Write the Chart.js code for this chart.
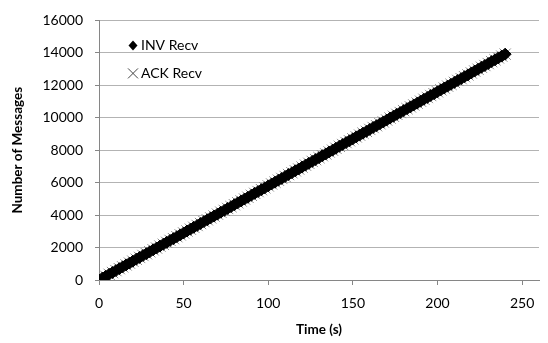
<!DOCTYPE html>
<html><head><meta charset="utf-8"><title>Messages received</title>
<script src="https://cdn.jsdelivr.net/npm/chart.js"></script>
<style>body{margin:0;background:#fff}</style></head>
<body>
<canvas id="msgChart" width="548" height="343"></canvas>
<script>
const timeSec = [0,2,4,6,8,10,12,14,16,18,20,22,24,26,28,30,32,34,36,38,40,42,44,46,48,50,52,54,56,58,60,62,64,66,68,70,72,74,76,78,80,82,84,86,88,90,92,94,96,98,100,102,104,106,108,110,112,114,116,118,120,122,124,126,128,130,132,134,136,138,140,142,144,146,148,150,152,154,156,158,160,162,164,166,168,170,172,174,176,178,180,182,184,186,188,190,192,194,196,198,200,202,204,206,208,210,212,214,216,218,220,222,224,226,228,230,232,234,236,238,240];
const invRecv = [0,120,230,350,460,580,700,810,930,1040,1160,1280,1390,1510,1620,1740,1860,1970,2090,2200,2320,2440,2550,2670,2780,2900,3020,3130,3250,3360,3480,3600,3710,3830,3940,4060,4180,4290,4410,4520,4640,4760,4870,4990,5100,5220,5340,5450,5570,5680,5800,5920,6030,6150,6260,6380,6500,6610,6730,6840,6960,7080,7190,7310,7420,7540,7660,7770,7890,8000,8120,8240,8350,8470,8580,8700,8820,8930,9050,9160,9280,9400,9510,9630,9740,9860,9980,10090,10210,10320,10440,10560,10670,10790,10900,11020,11140,11250,11370,11480,11600,11720,11830,11950,12060,12180,12300,12410,12530,12640,12760,12880,12990,13110,13220,13340,13460,13570,13690,13800,13920];
const ackRecv = [0,120,230,350,460,580,700,810,930,1040,1160,1280,1390,1510,1620,1740,1860,1970,2090,2200,2320,2440,2550,2670,2780,2900,3020,3130,3250,3360,3480,3600,3710,3830,3940,4060,4180,4290,4410,4520,4640,4760,4870,4990,5100,5220,5340,5450,5570,5680,5800,5920,6030,6150,6260,6380,6500,6610,6730,6840,6960,7080,7190,7310,7420,7540,7660,7770,7890,8000,8120,8240,8350,8470,8580,8700,8820,8930,9050,9160,9280,9400,9510,9630,9740,9860,9980,10090,10210,10320,10440,10560,10670,10790,10900,11020,11140,11250,11370,11480,11600,11720,11830,11950,12060,12180,12300,12410,12530,12640,12760,12880,12990,13110,13220,13340,13460,13570,13690,13800,13920];
const seriesNames = ['INV Recv', 'ACK Recv'];
const xTicks = [0, 50, 100, 150, 200, 250];

const FONT = 'Lato, "Open Sans", sans-serif';

// legend drawn inside the plot, top-left, one entry per row
const insideLegend = {
  id: 'insideLegend',
  afterDraw(chart) {
    const ctx = chart.ctx;
    const a = chart.chartArea;
    ctx.save();
    ctx.font = '14px ' + FONT;
    ctx.fillStyle = '#000';
    ctx.textBaseline = 'middle';
    // diamond
    let x = a.left + 34, y = a.top + 25;
    ctx.beginPath();
    ctx.moveTo(x, y - 5); ctx.lineTo(x + 4.5, y); ctx.lineTo(x, y + 5); ctx.lineTo(x - 4.5, y);
    ctx.closePath(); ctx.fill();
    ctx.fillText(seriesNames[0], x + 8, y);
    // cross
    y = a.top + 53;
    ctx.strokeStyle = '#444'; ctx.lineWidth = 1;
    ctx.beginPath();
    ctx.moveTo(x - 5, y - 5); ctx.lineTo(x + 5, y + 5);
    ctx.moveTo(x + 5, y - 5); ctx.lineTo(x - 5, y + 5);
    ctx.stroke();
    ctx.fillText(seriesNames[1], x + 8, y);
    ctx.restore();
  }
};

new Chart(document.getElementById('msgChart'), {
  type: 'scatter',
  data: {
    datasets: [
      {
        label: seriesNames[0],
        data: timeSec.map((t, i) => ({x: t, y: invRecv[i]})),
        pointStyle: 'rectRot', pointRadius: 6,
        backgroundColor: '#000', borderColor: '#000', borderWidth: 1
      },
      {
        label: seriesNames[1],
        data: timeSec.map((t, i) => ({x: t, y: ackRecv[i]})),
        pointStyle: 'crossRot', pointRadius: 8,
        backgroundColor: '#8a8a8a', borderColor: '#8a8a8a', borderWidth: 1
      }
    ]
  },
  options: {
    responsive: false,
    animation: false,
    layout: { padding: { top: 15, right: 4, left: 0, bottom: 0 } },
    plugins: { legend: { display: false }, tooltip: { enabled: false } },
    scales: {
      x: {
        type: 'linear', min: 0, max: 260,
        afterFit(s) { s.height = 63; },
        afterBuildTicks(s) { s.ticks = xTicks.map(v => ({ value: v })); },
        ticks: { padding: 10, color: '#000', font: { family: FONT, size: 14 },
                 callback: v => String(v) },
        grid: { drawOnChartArea: false, drawTicks: true, tickLength: 5, color: '#868686' },
        border: { color: '#868686' },
        title: { display: true, text: 'Time (s)', color: '#000',
                 font: { family: FONT, size: 13.5, weight: 'bold' }, padding: { top: 4, bottom: 5 } }
      },
      y: {
        min: 0, max: 16000,
        afterFit(s) { s.width = 99; },
        ticks: { stepSize: 2000, padding: 12, color: '#000', font: { family: FONT, size: 14 },
                 callback: v => String(v) },
        grid: { color: '#b3b3b3', tickLength: 4, tickColor: '#868686' },
        border: { color: '#868686' },
        title: { display: true, text: 'Number of Messages', color: '#000',
                 font: { family: FONT, size: 13.5, weight: 'bold' }, padding: { top: 10, bottom: 0 } }
      }
    }
  },
  plugins: [insideLegend]
});
</script></body></html>
